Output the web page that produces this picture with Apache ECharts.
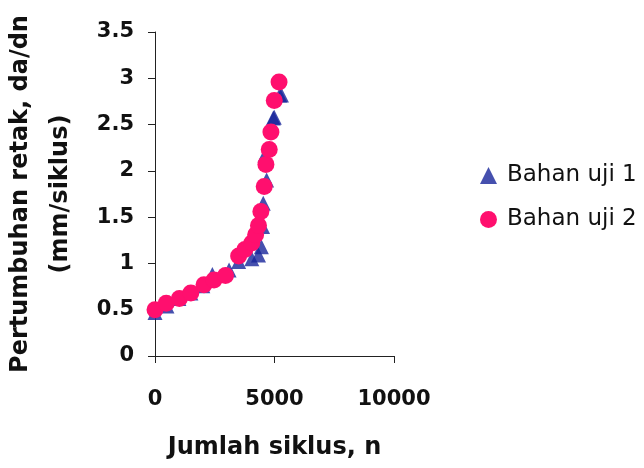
<!DOCTYPE html>
<html><head><meta charset="utf-8">
<script src="https://cdn.jsdelivr.net/npm/echarts@6/dist/echarts.min.js"></script>
<style>html,body{margin:0;padding:0;background:#fff}#c{width:644px;height:468px}</style>
</head><body><div id="c"></div>
<script>
const seriesNames = ['Bahan uji 1', 'Bahan uji 2'];
const xTicks = [0, 5000, 10000];
const yTicks = [0, 0.5, 1, 1.5, 2, 2.5, 3, 3.5];
// Bahan uji 1 (triangles): [cycles, da/dn]
const uji1 = [
  [0, 0.47], [500, 0.54], [1000, 0.62], [1500, 0.68], [2000, 0.76],
  [2400, 0.88], [3100, 0.93], [3500, 1.02], [4050, 1.05], [4330, 1.09],
  [4450, 1.18], [4500, 1.40], [4530, 1.65], [4670, 1.90], [4600, 2.17],
  [4950, 2.57], [4990, 2.58], [5220, 2.82], [5290, 2.82]
];
// Bahan uji 2 (circles)
const uji2 = [
  [0, 0.50], [470, 0.57], [1020, 0.62], [1500, 0.68], [2050, 0.77],
  [2470, 0.82], [2950, 0.87], [3500, 1.08], [3760, 1.15], [4050, 1.22],
  [4210, 1.31], [4330, 1.41], [4430, 1.56], [4570, 1.83], [4640, 2.07],
  [4780, 2.23], [4850, 2.42], [4990, 2.76], [5190, 2.96]
];
const font = '"DejaVu Sans", sans-serif';
const blue = '#16249a', pink = '#ff0f6e';
const chart = echarts.init(document.getElementById('c'));
chart.setOption({
  animation: false,
  backgroundColor: '#fff',
  grid: { left: 152, right: 250, top: 32, bottom: 112 },
  legend: {
    orient: 'vertical', left: 475, top: 159, itemGap: 21,
    itemWidth: 17, itemHeight: 17,
    textStyle: { fontFamily: font, fontSize: 23, color: '#111', padding: [0, 0, 0, 5] },
    data: [
      { name: seriesNames[0], icon: 'triangle', itemStyle: { color: blue } },
      { name: seriesNames[1], icon: 'circle', itemStyle: { color: pink } }
    ]
  },
  xAxis: {
    type: 'value', min: xTicks[0], max: xTicks[xTicks.length - 1], interval: 5000,
    name: 'Jumlah siklus, n', nameLocation: 'middle', nameGap: 80,
    nameTextStyle: { fontFamily: font, fontSize: 24, fontWeight: 'bold', color: '#111' },
    axisLine: { show: true, lineStyle: { color: '#222', width: 1 } },
    axisTick: { show: true, length: 7, lineStyle: { color: '#222' } },
    axisLabel: { fontFamily: font, fontSize: 21, fontWeight: 'bold', color: '#111', margin: 33,
      formatter: v => String(v) },
    splitLine: { show: false }
  },
  yAxis: {
    type: 'value', min: yTicks[0], max: yTicks[yTicks.length - 1], interval: 0.5,
    name: 'Pertumbuhan retak, da/dn\n(mm/siklus)', nameLocation: 'middle', nameGap: 74, nameRotate: 90,
    nameTextStyle: { fontFamily: font, fontSize: 24, fontWeight: 'bold', color: '#111', lineHeight: 40 },
    axisLine: { show: true, lineStyle: { color: '#222', width: 1 } },
    axisTick: { show: true, length: 7, lineStyle: { color: '#222' } },
    axisLabel: { fontFamily: font, fontSize: 21, fontWeight: 'bold', color: '#111', margin: 21 },
    splitLine: { show: false }
  },
  series: [
    { name: seriesNames[0], type: 'scatter', symbol: 'triangle', symbolSize: 15,
      itemStyle: { color: blue }, data: uji1, z: 2 },
    { name: seriesNames[1], type: 'scatter', symbol: 'circle', symbolSize: 17,
      itemStyle: { color: pink, opacity: 1 }, data: uji2, z: 3 }
  ]
});
</script></body></html>
